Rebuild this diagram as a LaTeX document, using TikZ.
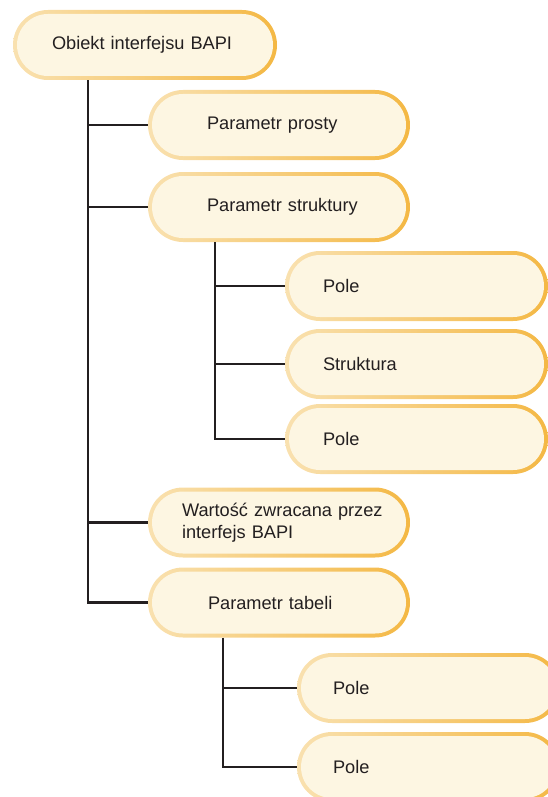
\documentclass[tikz,border=0pt]{standalone}
\usepackage{fontspec}
\setmainfont{Liberation Sans}
\definecolor{cream}{HTML}{FDF6E2}
\definecolor{rimlight}{HTML}{F9E1B0}
\definecolor{rimdark}{HTML}{F4B844}
\definecolor{ink}{HTML}{231F20}
\newcommand\indentby[1]{\hspace*{#1pt}}
\begin{document}
\begin{tikzpicture}[x=1pt,y=-1pt,
  box/.style={rectangle, rounded corners=35pt, minimum height=70pt,
    inner xsep=0pt, text width=#1pt, minimum width=#1pt,
    left color=rimlight, right color=rimdark, text=ink, align=left,
    font=\fontsize{18.2}{22}\selectfont,
    path picture={\fill[cream, rounded corners=31pt]
      ([shift={(4pt,4pt)}]path picture bounding box.south west) rectangle
      ([shift={(-4pt,-4pt)}]path picture bounding box.north east);}},
  conn/.style={draw=ink, line width=2.6pt}]
\useasboundingbox (0,0) rectangle (548,797);
\clip (0,0) rectangle (548,797);

% boxes
\node[box=264] (obj) at (145,45) {\indentby{39}Obiekt interfejsu BAPI};
\node[box=262] (prosty) at (279,125) {\indentby{59}Parametr prosty};
\node[box=262] (strukt) at (279,207) {\indentby{59}Parametr struktury};
\node[box=263] (pole1) at (416.5,286) {\indentby{38}Pole};
\node[box=263] (struktura) at (416.5,364) {\indentby{38}Struktura};
\node[box=263] (pole2) at (416.5,439) {\indentby{38}Pole};
\node[box=262] (wart) at (279,522.5) {\indentby{34}Wartość zwracana przez\\\indentby{34}interfejs BAPI};
\node[box=262] (tabeli) at (279,602.5) {\indentby{60}Parametr tabeli};
\node[box=263] (pole3) at (428.5,688) {\indentby{36}Pole};
\node[box=263] (pole4) at (428.5,767) {\indentby{36}Pole};

% tree connectors
\coordinate (t1) at ([xshift=75pt]obj.south west);
\draw[conn] (t1) |- (tabeli.west);
\foreach \n in {prosty,strukt,wart} \draw[conn] (t1 |- \n.west) -- (\n.west);

\coordinate (t2) at ([xshift=67pt]strukt.south west);
\draw[conn] (t2) |- (pole2.west);
\foreach \n in {pole1,struktura} \draw[conn] (t2 |- \n.west) -- (\n.west);

\coordinate (t3) at ([xshift=75pt]tabeli.south west);
\draw[conn] (t3) |- (pole4.west);
\draw[conn] (t3 |- pole3.west) -- (pole3.west);
\end{tikzpicture}
\end{document}
